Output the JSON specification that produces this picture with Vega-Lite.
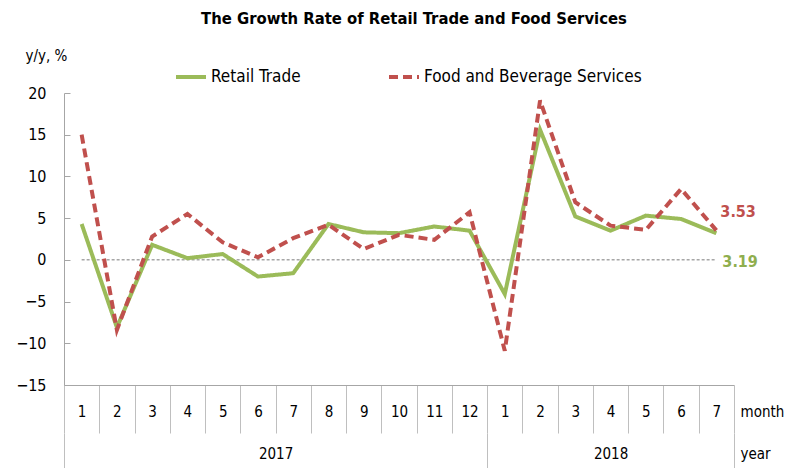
{
  "$schema": "https://vega.github.io/schema/vega-lite/v6.json",
  "autosize": {"type": "none"},
  "padding": {"left": 64, "top": 93, "right": 71, "bottom": 83},
  "width": 670,
  "height": 292,
  "title": {"text": "The Growth Rate of Retail Trade and Food Services", "fontSize": 16.5, "fontWeight": "bold", "font": "DejaVu Sans Condensed, Liberation Sans", "color": "#000000", "anchor": "middle", "dx": 15, "offset": 21, "frame": "group"},
  "config": {"view": {"stroke": null}, "font": "DejaVu Sans Condensed, Liberation Sans"},
  "data": {"values": [
    {"i": 1, "s": "Retail Trade", "v": 4.3}, {"i": 2, "s": "Retail Trade", "v": -8.1}, {"i": 3, "s": "Retail Trade", "v": 1.8},
    {"i": 4, "s": "Retail Trade", "v": 0.2}, {"i": 5, "s": "Retail Trade", "v": 0.7}, {"i": 6, "s": "Retail Trade", "v": -2.0},
    {"i": 7, "s": "Retail Trade", "v": -1.6}, {"i": 8, "s": "Retail Trade", "v": 4.3}, {"i": 9, "s": "Retail Trade", "v": 3.3},
    {"i": 10, "s": "Retail Trade", "v": 3.2}, {"i": 11, "s": "Retail Trade", "v": 4.0}, {"i": 12, "s": "Retail Trade", "v": 3.5},
    {"i": 13, "s": "Retail Trade", "v": -4.1}, {"i": 14, "s": "Retail Trade", "v": 15.6}, {"i": 15, "s": "Retail Trade", "v": 5.2},
    {"i": 16, "s": "Retail Trade", "v": 3.5}, {"i": 17, "s": "Retail Trade", "v": 5.3}, {"i": 18, "s": "Retail Trade", "v": 4.9},
    {"i": 19, "s": "Retail Trade", "v": 3.19},
    {"i": 1, "s": "Food and Beverage Services", "v": 15.0}, {"i": 2, "s": "Food and Beverage Services", "v": -8.4}, {"i": 3, "s": "Food and Beverage Services", "v": 2.8},
    {"i": 4, "s": "Food and Beverage Services", "v": 5.5}, {"i": 5, "s": "Food and Beverage Services", "v": 2.1}, {"i": 6, "s": "Food and Beverage Services", "v": 0.3},
    {"i": 7, "s": "Food and Beverage Services", "v": 2.6}, {"i": 8, "s": "Food and Beverage Services", "v": 4.2}, {"i": 9, "s": "Food and Beverage Services", "v": 1.3},
    {"i": 10, "s": "Food and Beverage Services", "v": 3.0}, {"i": 11, "s": "Food and Beverage Services", "v": 2.4}, {"i": 12, "s": "Food and Beverage Services", "v": 5.7},
    {"i": 13, "s": "Food and Beverage Services", "v": -10.9}, {"i": 14, "s": "Food and Beverage Services", "v": 19.1}, {"i": 15, "s": "Food and Beverage Services", "v": 6.9},
    {"i": 16, "s": "Food and Beverage Services", "v": 4.1}, {"i": 17, "s": "Food and Beverage Services", "v": 3.6}, {"i": 18, "s": "Food and Beverage Services", "v": 8.5},
    {"i": 19, "s": "Food and Beverage Services", "v": 3.53}
  ]},
  "layer": [
    {
      "encoding": {
        "x": {
          "field": "i", "type": "ordinal",
          "scale": {"paddingInner": 0, "paddingOuter": 0},
          "axis": {
            "title": "month", "titleFontSize": 15, "titleFontWeight": "normal", "titleAngle": 0,
            "titleX": 676, "titleY": 26, "titleAlign": "left", "titleBaseline": "middle",
            "labelExpr": "datum.value > 12 ? datum.value - 12 : datum.value",
            "labelAngle": 0, "labelFontSize": 15, "labelColor": "#000000", "labelBaseline": "middle",
            "labelPadding": -22, "tickBand": "extent", "tickSize": 48, "tickColor": "#bfbfbf",
            "domainColor": "#a6a6a6", "grid": false
          }
        }
      },
      "layer": [
        {
          "transform": [{"filter": "datum.s == 'Retail Trade'"}],
          "mark": {"type": "line", "color": "#a6a6a6", "strokeWidth": 1.5, "strokeDash": [3, 2]},
          "encoding": {"y": {"datum": 0}}
        },
        {
          "mark": {"type": "line", "strokeWidth": 4},
          "encoding": {
            "y": {
              "field": "v", "type": "quantitative",
              "scale": {"domain": [-15, 20], "nice": false, "zero": false},
              "axis": {
                "values": [-15, -10, -5, 0, 5, 10, 15, 20], "grid": false,
                "title": "y/y, %", "titleAngle": 0, "titleX": -39, "titleY": -38, "titleAlign": "left", "titleBaseline": "middle",
                "titleFontSize": 15, "titleFontWeight": "normal",
                "labelFontSize": 16, "labelColor": "#000000", "labelPadding": 24,
                "tickSize": -6, "tickColor": "#a6a6a6", "domainColor": "#a6a6a6"
              }
            },
            "color": {
              "field": "s", "type": "nominal",
              "scale": {"domain": ["Retail Trade", "Food and Beverage Services"], "range": ["#9BBB59", "#C0504D"]},
              "legend": {
                "title": null, "orient": "none", "legendX": 110, "legendY": -33, "direction": "horizontal",
                "symbolType": "stroke", "symbolSize": 900, "symbolStrokeWidth": 4, "labelFontSize": 17,
                "labelColor": "#000000", "labelOffset": 3, "columnPadding": 80, "labelLimit": 400
              }
            },
            "strokeDash": {
              "field": "s", "type": "nominal",
              "scale": {"domain": ["Retail Trade", "Food and Beverage Services"], "range": [[1, 0], [9, 5]]},
              "legend": {
                "title": null, "orient": "none", "legendX": 110, "legendY": -33, "direction": "horizontal",
                "symbolType": "stroke", "symbolSize": 900, "symbolStrokeWidth": 4, "labelFontSize": 17,
                "labelColor": "#000000", "labelOffset": 3, "columnPadding": 80, "labelLimit": 400
              }
            }
          }
        },
        {
          "transform": [{"filter": "datum.i == 19 && datum.s == 'Retail Trade'"}],
          "mark": {"type": "text", "align": "left", "baseline": "middle", "dx": 6, "dy": 29, "fontSize": 16, "fontWeight": "bold", "color": "#8FAE4E"},
          "encoding": {"y": {"field": "v", "type": "quantitative"}, "text": {"field": "v", "type": "quantitative", "format": ".2f"}}
        },
        {
          "transform": [{"filter": "datum.i == 19 && datum.s == 'Food and Beverage Services'"}],
          "mark": {"type": "text", "align": "left", "baseline": "middle", "dx": 4, "dy": -18, "fontSize": 16, "fontWeight": "bold", "color": "#C0504D"},
          "encoding": {"y": {"field": "v", "type": "quantitative"}, "text": {"field": "v", "type": "quantitative", "format": ".2f"}}
        }
      ]
    },
    {
      "transform": [{"filter": "datum.s == 'Retail Trade'"}],
      "mark": {"type": "rule", "opacity": 0},
      "encoding": {
        "x": {
          "field": "i", "type": "quantitative",
          "scale": {"domain": [0.5, 19.5], "nice": false, "zero": false},
          "axis": {
            "orient": "bottom", "offset": 48, "domain": false, "grid": false,
            "values": [0.5, 6.5, 12.5, 16, 19.5],
            "labelExpr": "datum.value == 6.5 ? '2017' : datum.value == 16 ? '2018' : ''",
            "tickSize": 36, "tickColor": "#bfbfbf",
            "tickOpacity": {"condition": {"test": "datum.value == 6.5 || datum.value == 16", "value": 0}, "value": 1},
            "labelFontSize": 15, "labelColor": "#000000", "labelBaseline": "middle", "labelPadding": -16,
            "labelFlush": false, "labelOverlap": false,
            "title": "year", "titleFontSize": 15, "titleFontWeight": "normal", "titleX": 676, "titleY": 20,
            "titleAlign": "left", "titleBaseline": "middle"
          }
        }
      }
    }
  ],
  "resolve": {"scale": {"x": "independent"}, "axis": {"x": "independent"}}
}
